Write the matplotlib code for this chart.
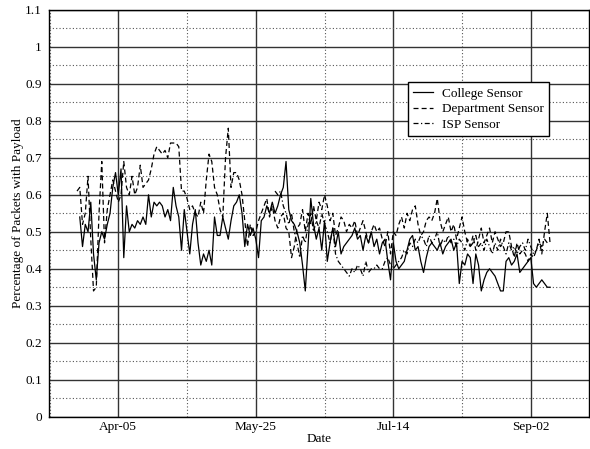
import datetime as dt

import numpy as np
import matplotlib
matplotlib.use("Agg")
import matplotlib.pyplot as plt
import matplotlib.dates as mdates
from matplotlib.ticker import MultipleLocator

# daily values, one per day from the start date of each series
college_start = dt.date(2003, 3, 22)
college = [
    0.54, 0.46, 0.52, 0.50, 0.58, 0.44, 0.37, 0.47, 0.50, 0.48,
    0.52, 0.55, 0.62, 0.66, 0.60, 0.67, 0.43, 0.57, 0.50, 0.52,
    0.51, 0.53, 0.52, 0.54, 0.52, 0.60, 0.54, 0.58, 0.57, 0.58,
    0.57, 0.54, 0.56, 0.53, 0.62, 0.57, 0.54, 0.45, 0.56, 0.50,
    0.44, 0.52, 0.56, 0.47, 0.41, 0.44, 0.42, 0.45, 0.41, 0.54,
    0.49, 0.49, 0.54, 0.51, 0.48, 0.53, 0.57, 0.58, 0.60, 0.55,
    0.46, 0.52, 0.49, 0.51, 0.48, 0.43, 0.53, 0.54, 0.57, 0.55,
    0.58, 0.55, 0.57, 0.60, 0.62, 0.69, 0.56, 0.53, 0.52, 0.50,
    0.47, 0.41, 0.34, 0.46, 0.59, 0.52, 0.48, 0.51, 0.45, 0.53,
    0.42, 0.47, 0.51, 0.46, 0.50, 0.44, 0.46, 0.47, 0.48, 0.49,
    0.51, 0.48, 0.49, 0.45, 0.49, 0.47, 0.50, 0.46, 0.48, 0.44,
    0.47, 0.48, 0.42, 0.37, 0.47, 0.42, 0.40, 0.41, 0.42, 0.45,
    0.48, 0.49, 0.45, 0.46, 0.42, 0.39, 0.43, 0.46, 0.47, 0.46,
    0.45, 0.47, 0.44, 0.46, 0.47, 0.48, 0.45, 0.47, 0.36, 0.42,
    0.41, 0.44, 0.43, 0.36, 0.44, 0.41, 0.34, 0.37, 0.39, 0.40,
    0.39, 0.38, 0.36, 0.34, 0.34, 0.42, 0.43, 0.41, 0.42, 0.44,
    0.39, 0.40, 0.41, 0.42, 0.43, 0.36, 0.35, 0.36, 0.37, 0.36,
    0.35, 0.35,
]

dept_start = dt.date(2003, 3, 21)
dept = [
    0.61, 0.62, 0.52, 0.55, 0.65, 0.48, 0.34, 0.35, 0.55, 0.69,
    0.47, 0.56, 0.60, 0.64, 0.61, 0.58, 0.60, 0.69, 0.62, 0.60,
    0.65, 0.60, 0.62, 0.68, 0.62, 0.63, 0.64, 0.67, 0.71, 0.73,
    0.72, 0.71, 0.72, 0.70, 0.74, 0.74, 0.74, 0.73, 0.61, 0.61,
    0.59, 0.56, 0.57, 0.55, 0.54, 0.58, 0.55, 0.64, 0.71, 0.69,
    0.62, 0.60, 0.56, 0.54, 0.70, 0.78, 0.62, 0.66, 0.66, 0.64,
    0.60, 0.53, 0.46, 0.52, 0.49, 0.50, 0.53, 0.55, 0.57, 0.59,
    0.54, 0.57, 0.53, 0.51, 0.54, 0.55, 0.51, 0.50, 0.43, 0.46,
    0.51, 0.52, 0.56, 0.50, 0.55, 0.52, 0.57, 0.53, 0.58, 0.56,
    0.60, 0.57, 0.53, 0.55, 0.49, 0.51, 0.54, 0.53, 0.50, 0.52,
    0.51, 0.53, 0.49, 0.51, 0.53, 0.50, 0.47, 0.50, 0.52, 0.50,
    0.51, 0.48, 0.46, 0.50, 0.44, 0.50, 0.49, 0.52, 0.54, 0.51,
    0.55, 0.53, 0.56, 0.57, 0.52, 0.49, 0.50, 0.53, 0.54, 0.53,
    0.55, 0.59, 0.53, 0.50, 0.52, 0.54, 0.50, 0.52, 0.48, 0.51,
    0.54, 0.50, 0.47, 0.46, 0.49, 0.45, 0.48, 0.51, 0.47, 0.49,
    0.51, 0.47, 0.50, 0.48, 0.46, 0.47, 0.50, 0.50, 0.46, 0.43,
    0.47, 0.44, 0.45, 0.44, 0.42, 0.44, 0.43, 0.45, 0.48, 0.44,
    0.50, 0.55, 0.47,
]

isp_start = dt.date(2003, 6, 1)
isp = [
    0.61, 0.60, 0.61, 0.57, 0.55, 0.52, 0.55, 0.50, 0.47, 0.43,
    0.49, 0.47, 0.52, 0.55, 0.50, 0.53, 0.51, 0.55, 0.52, 0.50,
    0.47, 0.51, 0.44, 0.42, 0.41, 0.40, 0.39, 0.38, 0.40, 0.39,
    0.41, 0.40, 0.38, 0.42, 0.39, 0.40, 0.40, 0.41, 0.40, 0.40,
    0.42, 0.43, 0.41, 0.40, 0.41, 0.42, 0.43, 0.45, 0.44, 0.47,
    0.46, 0.48, 0.47, 0.49, 0.48, 0.46, 0.49, 0.47, 0.48, 0.50,
    0.46, 0.48, 0.47, 0.49, 0.47, 0.48, 0.46, 0.48, 0.47, 0.45,
    0.48, 0.46, 0.47, 0.49, 0.46, 0.47, 0.45, 0.48, 0.46, 0.44,
    0.47, 0.45, 0.48, 0.46, 0.44, 0.47, 0.45, 0.46, 0.44, 0.46,
    0.47, 0.45, 0.48, 0.46, 0.44, 0.45, 0.47, 0.46, 0.48, 0.47,
]

tick_dates = [dt.date(2003, 4, 5), dt.date(2003, 5, 25),
              dt.date(2003, 7, 14), dt.date(2003, 9, 2)]


def days_from(start, n):
    return [start + dt.timedelta(days=i) for i in range(n)]


plt.rcParams['font.family'] = ['Liberation Serif', 'DejaVu Serif']
plt.rcParams['font.size'] = 9.5

fig = plt.figure(figsize=(5.9, 4.49), dpi=100)
ax = fig.add_axes([0.083, 0.072, 0.915, 0.906])

ax.plot(days_from(college_start, len(college)), college, color='black',
        lw=0.9, ls='-', label='College Sensor')
ax.plot(days_from(dept_start, len(dept)), dept, color='black',
        lw=0.9, ls=(0, (4, 2.5)), label='Department Sensor')
ax.plot(days_from(isp_start, len(isp)), isp, color='black',
        lw=0.9, ls=(0, (4, 2, 1, 2)), label='ISP Sensor')

# axis ranges
x0 = mdates.date2num(tick_dates[0])
ax.set_xlim(x0 - 25.2, x0 + 171.1)
ax.set_ylim(0, 1.1)

ax.xaxis.set_major_locator(plt.FixedLocator(mdates.date2num(tick_dates)))
minor = [x0 - 25] + [mdates.date2num(d) + 25 for d in tick_dates]
ax.xaxis.set_minor_locator(plt.FixedLocator(minor))
ax.xaxis.set_major_formatter(mdates.DateFormatter('%b-%d'))

ax.yaxis.set_major_locator(MultipleLocator(0.1))
ax.yaxis.set_minor_locator(MultipleLocator(0.05))
ax.yaxis.set_major_formatter(plt.FuncFormatter(lambda v, p: '%g' % round(v, 2)))

ax.grid(which='major', color='#333333', lw=1.0, ls='-')
ax.grid(which='minor', color='#555555', lw=0.8, ls=(0, (1, 2)))
ax.set_axisbelow(True)
ax.tick_params(which='both', length=0)
ax.tick_params(axis='y', pad=5)
ax.tick_params(axis='x', pad=3)

for s in ax.spines.values():
    s.set_linewidth(1.0)
    s.set_color('black')

ax.set_xlabel('Date', labelpad=0)
ax.set_ylabel('Percentage of Packets with Payload', labelpad=1)

leg = ax.legend(loc='upper left', bbox_to_anchor=(0.665, 0.822),
                borderaxespad=0, fancybox=False, framealpha=1,
                edgecolor='black', handlelength=1.5, handletextpad=0.7,
                labelspacing=0.25, borderpad=0.4)
leg.get_frame().set_linewidth(1.0)

fig.savefig('out.png', dpi=100)
